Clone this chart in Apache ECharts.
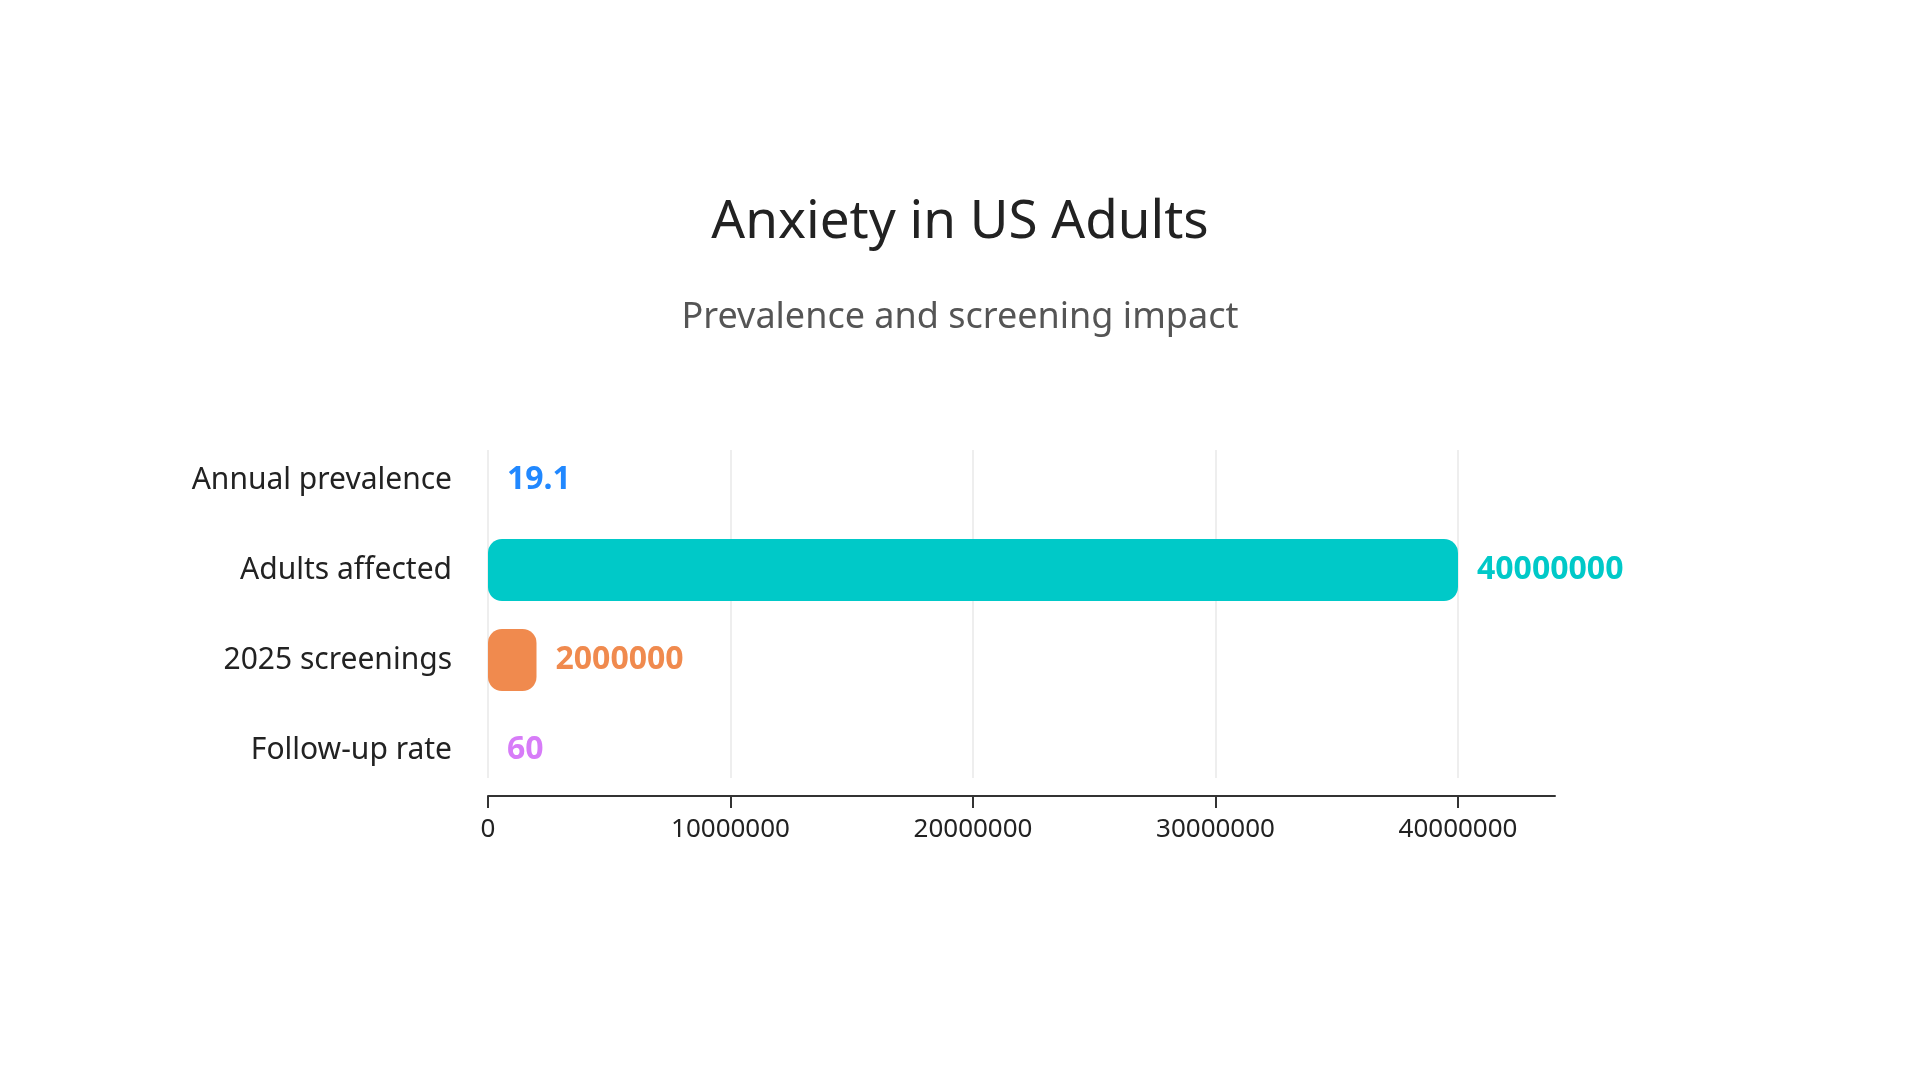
<!DOCTYPE html>
<html>
<head>
<meta charset="utf-8">
<script src="https://cdn.jsdelivr.net/npm/echarts@6/dist/echarts.min.js"></script>
<style>html,body{margin:0;padding:0;background:#fff;}#c{width:1920px;height:1080px;}</style>
</head>
<body>
<div id="c"></div>
<script>
const categories = ['Annual prevalence', 'Adults affected', '2025 screenings', 'Follow-up rate'];
const values = [19.1, 40000000, 2000000, 60];
const barColors = ['#2188FF', '#00C9C8', '#F08A4E', '#D77CF8'];
const tickValues = [0, 10000000, 20000000, 30000000, 40000000];
const titleText = 'Anxiety in US Adults';
const subtitleText = 'Prevalence and screening impact';

const FONT = '"Noto Sans", sans-serif';
const chart = echarts.init(document.getElementById('c'));
chart.setOption({
  backgroundColor: '#ffffff',
  animation: false,
  title: [
    { text: titleText, left: 'center', top: 191, textStyle: { fontFamily: FONT, fontSize: 53, fontWeight: 'normal', color: '#222222' } },
    { text: subtitleText, left: 'center', top: 295, textStyle: { fontFamily: FONT, fontSize: 36, fontWeight: 'normal', color: '#555555' } }
  ],
  grid: [
    { left: 488, right: 365, top: 435, height: 360 },
    { left: 488, right: 462, top: 450, height: 328 }
  ],
  xAxis: [
    { type: 'value', gridIndex: 0, min: 0, max: 44000000, interval: 10000000, offset: 1,
      axisLine: { show: true, lineStyle: { color: '#333333', width: 2 } },
      axisTick: { show: false }, axisLabel: { show: false }, splitLine: { show: false } },
    { type: 'value', gridIndex: 1, min: tickValues[0], max: tickValues[tickValues.length - 1], interval: 10000000, offset: 18,
      axisLine: { show: false },
      axisTick: { show: true, length: 12, lineStyle: { color: '#333333', width: 2 } },
      axisLabel: { show: true, margin: 21, fontFamily: FONT, fontSize: 26, color: '#222222',
                   formatter: v => String(v) },
      splitLine: { show: true, lineStyle: { color: '#eeeeee', width: 2 } } }
  ],
  yAxis: [
    { type: 'category', gridIndex: 0, data: categories, inverse: true,
      axisLine: { show: false }, axisTick: { show: false }, splitLine: { show: false },
      axisLabel: { margin: 36, fontFamily: FONT, fontSize: 30, color: '#222222' } },
    { type: 'category', gridIndex: 1, data: categories, inverse: true, show: false }
  ],
  series: [{
    type: 'bar', xAxisIndex: 0, yAxisIndex: 0,
    barWidth: 62,
    data: values.map((v, i) => ({
      value: v,
      itemStyle: { color: barColors[i], borderRadius: 14 },
      label: { color: barColors[i] }
    })),
    label: { show: true, position: 'right', distance: 19, fontFamily: FONT, fontSize: 32, fontWeight: 'bold' }
  }]
});
</script>
</body>
</html>
